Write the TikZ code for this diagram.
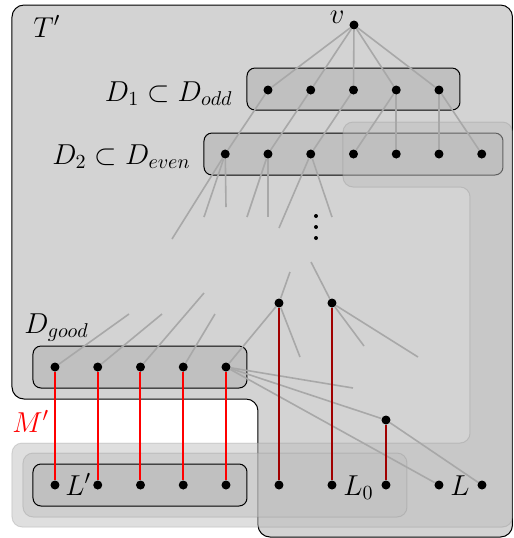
\documentclass[tikz,border=0pt]{standalone}
\definecolor{tgray}{RGB}{211,211,211}
\definecolor{bgray}{RGB}{192,192,192}
\definecolor{egray}{RGB}{168,168,168}
\definecolor{dred}{RGB}{160,0,0}
\begin{document}
\begin{tikzpicture}[x=0.5pt,y=-0.5pt,
  dot/.style={circle,fill=black,inner sep=0pt,minimum size=4.5pt},
  sdot/.style={circle,fill=black,inner sep=0pt,minimum size=2pt},
  setbox/.style={draw=black,fill=bgray,rounded corners=4pt,line width=0.5pt},
  region/.style={fill=lightgray,fill opacity=0.5,draw=gray,draw opacity=0.25,rounded corners=5pt,line width=0.5pt},
  gedge/.style={draw=egray,line width=0.8pt},
  redge/.style={draw=red,line width=1pt},
  dedge/.style={draw=dred,line width=1pt},
  lab/.style={font=\Large,inner sep=0pt}]
\useasboundingbox (0,0) rectangle (514,538);
% T' region
\draw[fill=tgray,rounded corners=6pt,line width=0.5pt] (12,5) -- (512.5,5) -- (512.5,537) -- (258,537) -- (258,399) -- (12,399) -- cycle;
% set boxes
\draw[setbox] (247,68) rectangle (460,110);
\draw[setbox] (204,133) rectangle (503,175);
\draw[setbox] (33,346) rectangle (247,388);
% L region
\draw[region] (343,122) -- (512.5,122) -- (512.5,527) -- (12,527) -- (12,443) -- (470,443) -- (470,187) -- (343,187) -- cycle;
% L0 region
\draw[region] (23,453) rectangle (407,517);
% L' box
\draw[setbox] (33,464) rectangle (247,506);
% labels
\node[lab,anchor=base west] (tp) at (33,37) {$T'$};
\node[lab,anchor=base east] (vl) at (345,23) {$v$};
\node[lab,anchor=base east] (d1l) at (233,101) {$D_1\subset D_{odd}$};
\node[lab,anchor=base east] (d2l) at (191,164) {$D_2\subset D_{even}$};
\node[lab,anchor=base west] (dgl) at (24,333) {$D_{good}$};
\node[lab,anchor=base west,text=red] (ml) at (12,432) {$M'$};
\node[lab,anchor=base west] (lpl) at (65,495) {$L'$};
\node[lab,anchor=base west] (l0l) at (343,495) {$L_0$};
\node[lab,anchor=base west] (ll) at (450,495) {$L$};
% nodes
\node[dot] (v) at (354,25) {};
\foreach \i/\x in {1/268,2/310.75,3/353.5,4/396.25,5/439}
  \node[dot] (a\i) at (\x,90) {};
\foreach \i/\x in {1/225.25,2/268,3/310.75,4/353.5,5/396.25,6/439,7/481.75}
  \node[dot] (b\i) at (\x,154) {};
\foreach \i/\x in {1/55,2/97.75,3/140.5,4/183.25,5/226}
  {\node[dot] (g\i) at (\x,367) {};
   \node[dot] (p\i) at (\x,485) {};}
\node[dot] (ma) at (279,303) {};
\node[dot] (mb) at (332,303) {};
\node[dot] (mc) at (386,420) {};
\node[dot] (q1) at (279,485) {};
\node[dot] (q2) at (332,485) {};
\node[dot] (q3) at (386,485) {};
\node[dot] (r1) at (439,485) {};
\node[dot] (r2) at (482,485) {};
\node[sdot] (vd1) at (316,216) {};
\node[sdot] (vd2) at (316,227) {};
\node[sdot] (vd3) at (316,238) {};
% loose ends
\coordinate (e1) at (172,239); \coordinate (e2) at (204,217); \coordinate (e3) at (226,207);
\coordinate (e4) at (247,217); \coordinate (e5) at (268,217);
\coordinate (e6) at (279,228); \coordinate (e7) at (332,217);
\coordinate (f1) at (290,272); \coordinate (f2) at (300,357);
\coordinate (f3) at (311,262); \coordinate (f4) at (364,346); \coordinate (f5) at (418,357);
\coordinate (h1) at (129,314); \coordinate (h2) at (162,314); \coordinate (h3) at (204,293); \coordinate (h4) at (215,314);
\coordinate (h5) at (353,388);
% gray edges
\foreach \i in {1,...,5} \draw[gedge] (v) -- (a\i);
\draw[gedge] (a1) -- (b1); \draw[gedge] (a2) -- (b2); \draw[gedge] (a3) -- (b3);
\draw[gedge] (a4) -- (b4); \draw[gedge] (a4) -- (b5);
\draw[gedge] (a5) -- (b6); \draw[gedge] (a5) -- (b7);
\draw[gedge] (b1) -- (e1); \draw[gedge] (b1) -- (e2); \draw[gedge] (b1) -- (e3);
\draw[gedge] (b2) -- (e4); \draw[gedge] (b2) -- (e5);
\draw[gedge] (b3) -- (e6); \draw[gedge] (b3) -- (e7);
\draw[gedge] (ma) -- (f1); \draw[gedge] (ma) -- (f2);
\draw[gedge] (mb) -- (f3); \draw[gedge] (mb) -- (f4); \draw[gedge] (mb) -- (f5);
\draw[gedge] (g1) -- (h1); \draw[gedge] (g2) -- (h2); \draw[gedge] (g3) -- (h3); \draw[gedge] (g4) -- (h4);
\draw[gedge] (g5) -- (ma); \draw[gedge] (g5) -- (h5); \draw[gedge] (g5) -- (mc); \draw[gedge] (g5) -- (r1);
\draw[gedge] (mc) -- (r2);
% red edges
\foreach \i in {1,...,5} \draw[redge] (g\i) -- (p\i);
\draw[dedge] (ma) -- (q1); \draw[dedge] (mb) -- (q2); \draw[dedge] (mc) -- (q3);
\end{tikzpicture}
\end{document}
